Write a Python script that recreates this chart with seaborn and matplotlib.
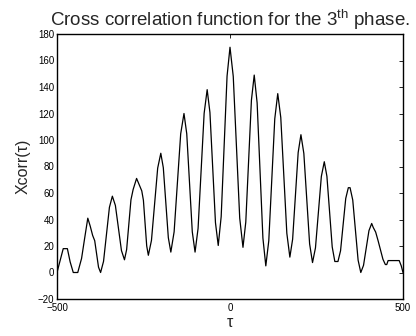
import matplotlib
matplotlib.use("Agg")
import matplotlib.pyplot as plt
import seaborn as sns
import pandas as pd

tau = [-500, -490, -482, -470, -462, -453, -440, -429, -420, -411, -404, -397,
       -391, -385.5, -380, -374, -365.5, -357, -348.5, -340, -331.25, -322.5,
       -313.75, -305, -298.75, -292.5, -286.25, -280, -270, -255, -250.25,
       -245.5, -240.75, -236, -227, -218, -209, -200, -192.75, -185.5, -178.25,
       -171, -161.5, -152, -142.5, -133, -125, -117, -109, -101, -92.25, -83.5,
       -74.75, -66, -58, -50, -42, -34, -25.5, -17, -8.5, 0, 9.4, 18.75, 28.1,
       37.5, 45.6, 53.75, 61.9, 70, 78.4, 86.75, 95.1, 103.5, 112.1, 120.75,
       129.4, 138, 146.75, 155.5, 164.25, 173, 181, 189, 197, 205, 213.4,
       221.75, 230.1, 238.5, 247, 255.5, 264, 272.5, 280.1, 287.75, 295.4, 303,
       312, 319.5, 327, 334.5, 342, 347, 354.75, 362.5, 370.25, 378, 385.9,
       393.75, 401.6, 409.5, 414, 421, 428, 435, 442, 449, 453, 457, 489, 495,
       500]
xcorr = [0, 10, 18, 18, 8, 0, 0, 10.6, 26, 41, 35, 28,
         24, 14, 4, 0, 8.4, 28.8, 49.2, 57.6, 50.6, 33.6,
         16.6, 9.6, 17.3, 36.1, 54.9, 62.6, 71, 61.6, 54.5,
         37.3, 20.1, 13, 24.2, 51.5, 78.8, 90, 79.1, 52.7, 26.3,
         15.4, 30.7, 67.7, 104.7, 120, 104.7, 67.7, 30.7, 15.4, 33.3, 76.7,
         120.1, 138, 120.8, 79.2, 37.6, 20.4, 42.2, 95.2, 148.2, 170, 148, 94.5, 41,
         19, 38, 84, 130, 149, 128, 77, 26, 5, 24, 70,
         116, 135, 117, 73.3, 29.6, 11.6, 25.1, 57.8, 90.5, 104, 89.9,
         55.75, 21.6, 7.5, 18.6, 45.5, 72.5, 83.6, 72.6, 46, 19.3, 8.3,
         8.3, 16.4, 36.2, 55.9, 64, 64, 54.7, 32, 9.3, 0, 5.4,
         18.5, 31.6, 37, 34, 30.5, 24, 17, 10, 6, 6, 9, 9, 5,
         0]

xticks = [-500, 0, 500]
yticks = [-20, 0, 20, 40, 60, 80, 100, 120, 140, 160, 180]

df = pd.DataFrame({"tau": tau, "xcorr": xcorr})

sns.set_style("white")
plt.rcParams['font.family'] = ['Liberation Sans', 'DejaVu Sans']

fig = plt.figure(figsize=(4.16, 3.36), dpi=100)
ax = fig.add_axes([57/416, 1 - 299/336, 346/416, 265/336])
sns.lineplot(data=df, x="tau", y="xcorr", ax=ax, color="black", linewidth=0.9,
             sort=False, estimator=None)

ax.set_xlim(-500, 500)
ax.set_ylim(-20, 180)
ax.set_xticks(xticks)
ax.set_yticks(yticks)
ax.tick_params(direction="in", length=3, width=0.6, labelsize=7,
               top=True, right=True, colors="black", pad=2)
ax.tick_params(axis="x", pad=3)
for s in ax.spines.values():
    s.set_visible(True)
    s.set_color("black")
    s.set_linewidth(1.0)

ax.set_xlabel("τ", fontsize=11.5, labelpad=1)
ax.set_ylabel("Xcorr(τ)", fontsize=11.5, labelpad=5)
ax.set_title("Cross correlation function for the 3$^{\\mathregular{th}}$ phase.",
             fontsize=13.5, pad=6)

fig.savefig("out.png", dpi=100)
